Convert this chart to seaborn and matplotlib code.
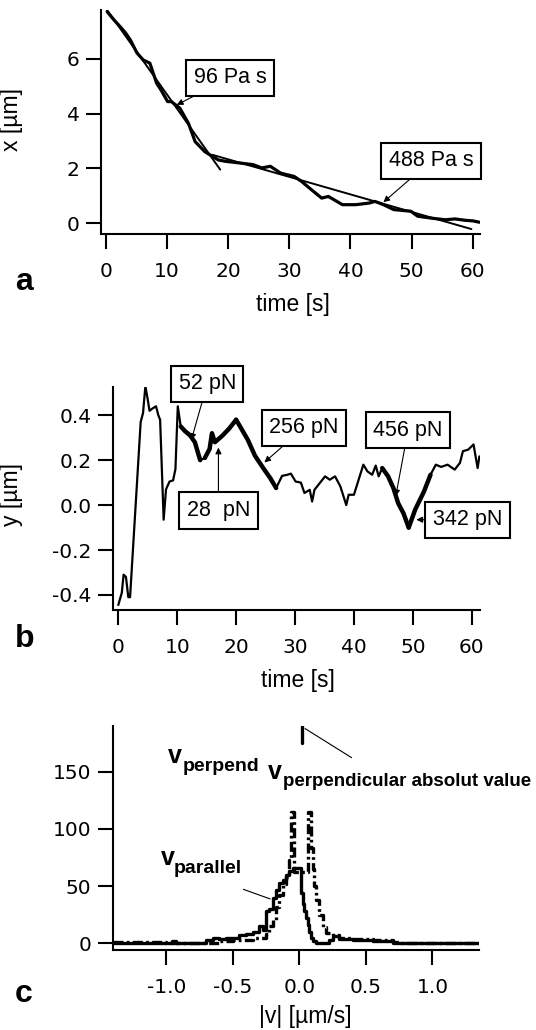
import matplotlib
matplotlib.use("Agg")
import matplotlib.pyplot as plt
import seaborn as sns

# ---- panel a: bead position x [um] vs time [s]
a_time = [0.2, 1.2, 2.3, 3.2, 4.0, 5.1, 6.1, 7.2, 8.3, 9.0, 10.1, 10.7, 12.1,
          13.5, 14.6, 16.2, 18.4, 19.6, 21.9, 24.1, 25.5, 26.9, 28.6, 30.8,
          32.0, 33.6, 35.3, 36.4, 38.7, 40.9, 43.1, 44.0, 45.4, 47.1, 49.9,
          51.0, 53.2, 55.5, 57.1, 58.8, 60.0, 61.1]
a_x = [7.72, 7.45, 7.18, 6.95, 6.69, 6.21, 5.96, 5.84, 5.11, 4.87, 4.44, 4.44,
       4.20, 3.65, 2.98, 2.61, 2.31, 2.26, 2.20, 2.14, 2.02, 2.08, 1.83, 1.71,
       1.53, 1.23, 0.92, 0.98, 0.68, 0.68, 0.74, 0.80, 0.68, 0.50, 0.44,
       0.26, 0.19, 0.13, 0.16, 0.11, 0.09, 0.04]
a_fit1_t = [0.2, 18.7]
a_fit1_x = [7.78, 1.96]
a_fit2_t = [17.4, 59.8]
a_fit2_x = [2.50, -0.21]
a_labels = ["96 Pa s", "488 Pa s"]
a_label_xy = [(20.3, 5.31), (53.2, 2.28)]
a_arrow_xy = [(11.6, 4.32), (45.4, 0.77)]
a_xticks = [0, 10, 20, 30, 40, 50, 60]
a_yticks = [0, 2, 4, 6]

# ---- panel b: bead position y [um] vs time [s]
b_time = [0.0, 0.6, 0.9, 1.3, 1.7, 2.0, 2.6, 3.2, 3.8, 4.2, 4.6, 5.0, 5.3,
          5.8, 6.4, 6.8, 7.1, 7.7, 8.1, 8.7, 9.3, 9.7, 10.1, 10.6, 11.3,
          12.2, 13.0, 13.9, 14.7, 15.5, 15.9, 16.4, 17.7, 18.8, 20.0, 20.9,
          22.0, 23.2, 24.6, 25.8, 26.8, 27.8, 28.7, 29.3, 30.1, 31.0, 31.6,
          32.5, 32.9, 33.3, 34.2, 35.1, 35.9, 36.8, 37.7, 38.7, 39.1, 40.0,
          40.8, 41.6, 42.3, 43.1, 43.7, 44.2, 44.8, 45.8, 46.7, 47.5, 48.4,
          49.3, 50.4, 51.9, 53.0, 53.9, 54.8, 55.9, 57.1, 58.0, 58.5, 59.4,
          60.3, 60.6, 61.0, 61.3]
b_y = [-0.445, -0.39, -0.31, -0.32, -0.41, -0.41, -0.15, 0.11, 0.37, 0.41,
       0.53, 0.47, 0.42, 0.43, 0.44, 0.40, 0.38, -0.065, 0.07, 0.105, 0.11,
       0.16, 0.44, 0.35, 0.33, 0.31, 0.28, 0.20, 0.21, 0.25, 0.32, 0.28,
       0.31, 0.34, 0.38, 0.34, 0.29, 0.22, 0.165, 0.12, 0.076, 0.13, 0.135,
       0.14, 0.105, 0.10, 0.054, 0.068, 0.016, 0.068, 0.098, 0.128, 0.113,
       0.128, 0.083, 0.0, 0.046, 0.046, 0.113, 0.18, 0.15, 0.135, 0.176,
       0.128, 0.165, 0.128, 0.076, 0.009, -0.036, -0.10, -0.02, 0.061,
       0.135, 0.18, 0.17, 0.18, 0.158, 0.188, 0.24, 0.247, 0.27, 0.225,
       0.165, 0.217]
b_fit_ranges = [(10.6, 13.9), (14.7, 20.0), (20.0, 26.8), (44.8, 49.3), (49.3, 53.0)]
b_labels = ["52 pN", "256 pN", "28  pN", "456 pN", "342 pN"]
b_label_xy = [(15.1, 0.54), (31.5, 0.345), (17.0, -0.024), (49.2, 0.334), (59.3, -0.065)]
b_arrow_xy = [(12.4, 0.29), (24.8, 0.19), (17.0, 0.256), (47.1, 0.04), (50.6, -0.065)]
b_xticks = [0, 10, 20, 30, 40, 50, 60]
b_yticks = [-0.4, -0.2, 0.0, 0.2, 0.4]
b_yticklabels = ["-0.4", "-0.2", "0.0", "0.2", "0.4"]

# ---- panel c: velocity histograms (bin edges + counts)
par_edges = [-1.40, -0.96, -0.93, -0.70, -0.65, -0.60, -0.55, -0.50, -0.45,
             -0.40, -0.35, -0.30, -0.275, -0.25, -0.225, -0.20, -0.175, -0.15,
             -0.125, -0.10, -0.075, -0.05, 0.0125, 0.025, 0.0375, 0.05,
             0.0625, 0.075, 0.0875, 0.10, 0.125, 0.225, 0.25, 0.30, 0.40,
             0.55, 0.70, 1.35]
par_counts = [0.5, 2, 0, 3, 5, 4, 5, 5, 7, 8, 10, 15, 12, 28, 30, 40, 47, 53,
              55, 60, 63, 66, 44, 34, 28, 22, 16, 10, 5, 2, 0, 3, 6, 4, 3, 2,
              0.5]
perp_edges = [-1.40, -1.00, -0.60, -0.50, -0.35, -0.25, -0.225, -0.20,
              -0.175, -0.15, -0.125, -0.10, -0.075, -0.0625, -0.0375, 0.0625,
              0.0875, 0.10, 0.1125, 0.125, 0.15, 0.175, 0.20, 0.25, 0.30,
              0.40, 0.55, 0.70, 0.75, 1.35]
perp_counts = [1, 0.5, 2, 3, 5, 8, 15, 20, 32, 42, 52, 58, 73, 115, 62, 115,
               83, 65, 50, 38, 25, 14, 9, 7, 5, 4, 3, 1, 0.5]
abs_peak_x = [0.018, 0.018]
abs_peak_y = [175, 190]
c_xticks = [-1.0, -0.5, 0.0, 0.5, 1.0]
c_xticklabels = ["-1.0", "-0.5", "0.0", "0.5", "1.0"]
c_yticks = [0, 50, 100, 150]

sns.set_style("ticks")
plt.rcParams["font.family"] = ["Liberation Sans", "DejaVu Sans"]
plt.rcParams["axes.unicode_minus"] = False
plt.rcParams["axes.linewidth"] = 1.5
for key in ["text.color", "axes.labelcolor", "xtick.color", "ytick.color",
            "axes.edgecolor"]:
    plt.rcParams[key] = "black"

fig = plt.figure(figsize=(5.36, 10.3), dpi=100)
ax_a = fig.add_axes([0.1884, 0.7728, 0.7071, 0.2175])
ax_b = fig.add_axes([0.2108, 0.4078, 0.6847, 0.2165])
ax_c = fig.add_axes([0.2108, 0.0777, 0.6830, 0.2175])


def style_axes(ax):
    sns.despine(ax=ax)
    for s in ["left", "bottom"]:
        ax.spines[s].set_color("black")
        ax.spines[s].set_linewidth(1.5)
    ax.tick_params(axis="both", direction="out", length=10.5, width=1.5,
                   colors="black", labelsize=14.5)
    ax.tick_params(axis="x", pad=10)
    ax.tick_params(axis="y", pad=5)
    for lab in ax.get_xticklabels() + ax.get_yticklabels():
        lab.set_family("DejaVu Sans")
    ax.grid(False)


box = dict(boxstyle="square,pad=0.35", fc="white", ec="black", lw=1.5)
arrow = dict(arrowstyle="-|>", color="black", lw=0.8, mutation_scale=9,
             shrinkA=0, shrinkB=0)

# panel a
sns.lineplot(x=a_time, y=a_x, ax=ax_a, color="black", lw=2.3,
             estimator=None, sort=False)
sns.lineplot(x=a_fit1_t, y=a_fit1_x, ax=ax_a, color="black", lw=1.4,
             estimator=None, sort=False)
sns.lineplot(x=a_fit2_t, y=a_fit2_x, ax=ax_a, color="black", lw=1.4,
             estimator=None, sort=False)
for txt, xy, head in zip(a_labels, a_label_xy, a_arrow_xy):
    ax_a.annotate(txt, xy=head, xytext=xy, ha="center", va="center",
                  fontsize=15.5, bbox=box, arrowprops=arrow)
ax_a.set_xlim(-0.8, 61.2)
ax_a.set_ylim(-0.39, 7.78)
ax_a.set_xticks(a_xticks)
ax_a.set_yticks(a_yticks)
style_axes(ax_a)
ax_a.set_xlabel("time [s]", fontsize=16.5)
ax_a.set_ylabel("x [µm]", fontsize=16.5)
ax_a.xaxis.set_label_coords(0.507, -0.263)
ax_a.yaxis.set_label_coords(-0.206, 0.509)

# panel b
sns.lineplot(x=b_time, y=b_y, ax=ax_b, color="black", lw=1.6,
             estimator=None, sort=False)
for t0, t1 in b_fit_ranges:
    seg_t = [t for t in b_time if t0 <= t <= t1]
    seg_y = [y for t, y in zip(b_time, b_y) if t0 <= t <= t1]
    sns.lineplot(x=seg_t, y=seg_y, ax=ax_b, color="black", lw=3.2,
                 estimator=None, sort=False)
for txt, xy, head in zip(b_labels, b_label_xy, b_arrow_xy):
    ax_b.annotate(txt, xy=head, xytext=xy, ha="center", va="center",
                  fontsize=15.5, bbox=box, arrowprops=arrow, annotation_clip=False)
ax_b.set_xlim(-0.9, 61.4)
ax_b.set_ylim(-0.467, 0.526)
ax_b.set_xticks(b_xticks)
ax_b.set_yticks(b_yticks)
ax_b.set_yticklabels(b_yticklabels)
style_axes(ax_b)
ax_b.set_xlabel("time [s]", fontsize=16.5)
ax_b.set_ylabel("y [µm]", fontsize=16.5)
ax_b.xaxis.set_label_coords(0.504, -0.265)
ax_b.yaxis.set_label_coords(-0.245, 0.52)

# panel c
sns.lineplot(x=perp_edges, y=perp_counts + perp_counts[-1:], ax=ax_c,
             color="black", lw=2.4, drawstyle="steps-post",
             linestyle=(0, (3.0, 1.0, 0.8, 1.0)), estimator=None, sort=False)
sns.lineplot(x=par_edges, y=par_counts + par_counts[-1:], ax=ax_c,
             color="black", lw=2.4, drawstyle="steps-post",
             estimator=None, sort=False)
sns.lineplot(x=abs_peak_x, y=abs_peak_y, ax=ax_c, color="black", lw=2.4,
             estimator=None, sort=False)
ax_c.annotate("", xy=(-0.2, 38), xytext=(-0.44, 48),
              arrowprops=dict(arrowstyle="-", lw=0.8, color="black"))
ax_c.annotate("", xy=(0.41, 161), xytext=(0.025, 189), annotation_clip=False,
              arrowprops=dict(arrowstyle="-", lw=0.8, color="black"))
bold = dict(fontweight="bold", color="black", va="baseline", ha="left")
ax_c.text(-0.99, 158, "v", fontsize=18, **bold)
ax_c.text(-0.875, 150.8, "perpend", fontsize=14, **bold)
ax_c.text(-0.233, 143.6, "v", fontsize=18, **bold)
ax_c.text(-0.12, 137.8, "perpendicular absolut value", fontsize=13.5,
          clip_on=False, **bold)
ax_c.text(-1.04, 68.5, "v", fontsize=18, **bold)
ax_c.text(-0.945, 61.5, "parallel", fontsize=14, **bold)
ax_c.set_xlim(-1.40, 1.35)
ax_c.set_ylim(-5.8, 190)
ax_c.set_xticks(c_xticks)
ax_c.set_xticklabels(c_xticklabels)
ax_c.set_yticks(c_yticks)
style_axes(ax_c)
ax_c.set_xlabel("|v| [µm/s]", fontsize=16.5)
ax_c.set_ylabel("")
ax_c.xaxis.set_label_coords(0.525, -0.246)

# panel letters
for letter, ypx in zip(["a", "b", "c"], [290, 647, 1002]):
    fig.text(15 / 536, 1 - ypx / 1030, letter, fontsize=23, fontweight="bold",
             va="baseline", ha="left")

fig.savefig("out.png", dpi=100)
